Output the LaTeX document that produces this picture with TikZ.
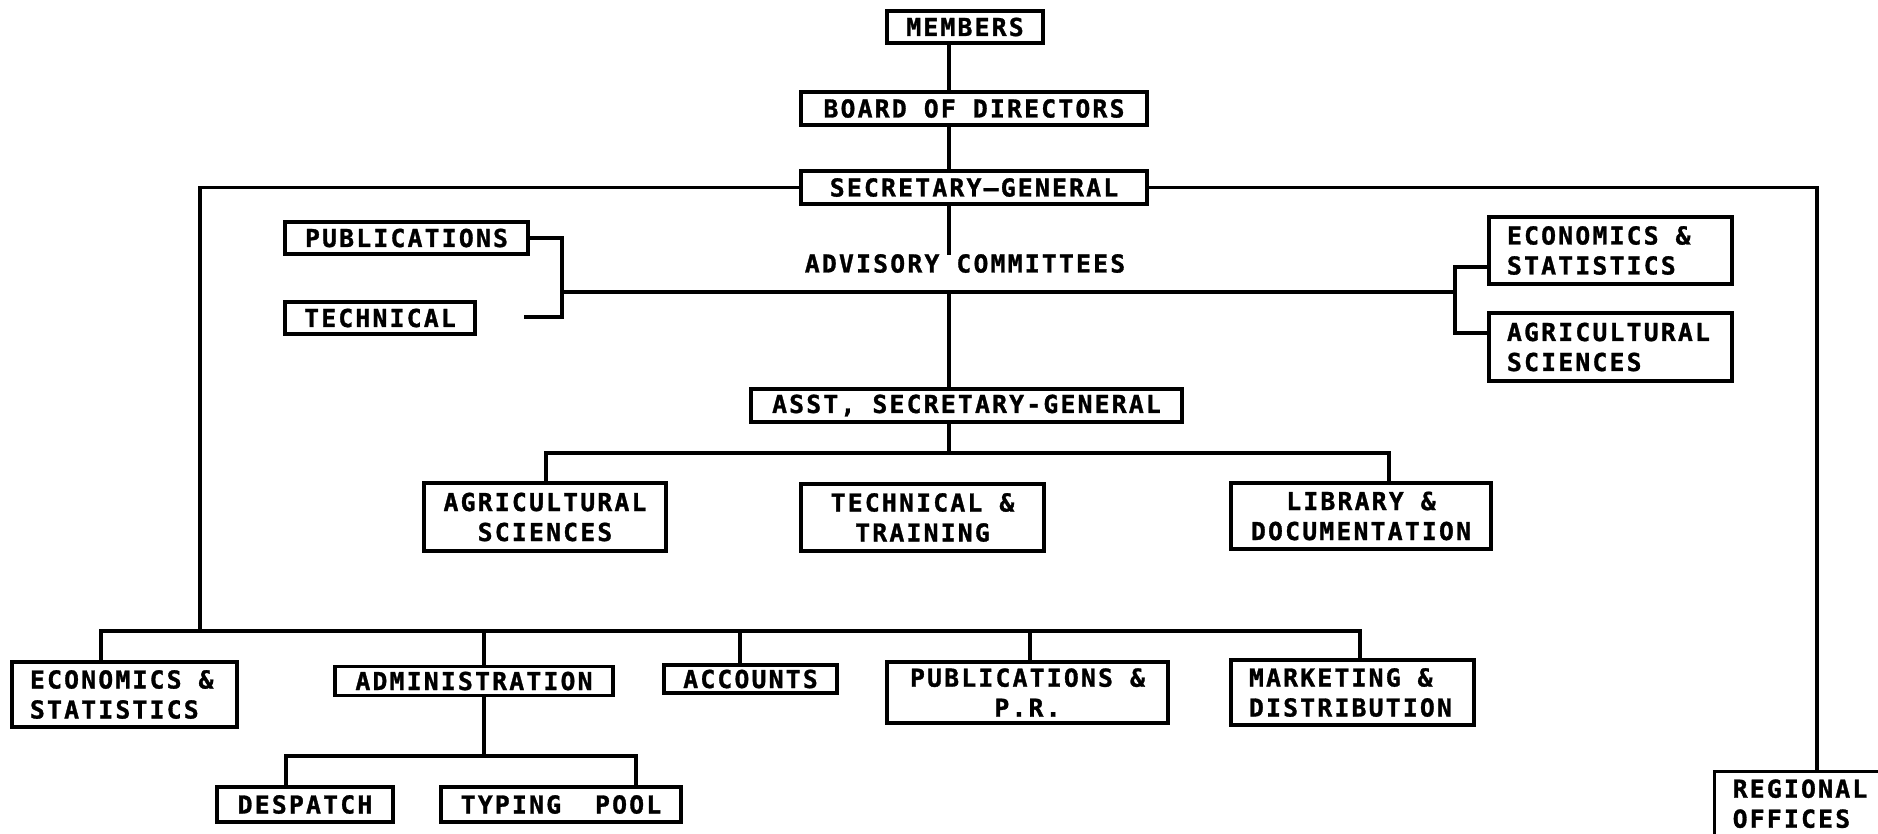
\documentclass[tikz,border=0pt]{standalone}
\usepackage{fontspec}
\newfontfamily\lpfam{DejaVu Sans Mono}[LetterSpace=9,FakeBold=1.2]
\newcommand\lpF{\lpfam\bfseries\fontsize{24.7}{30}\selectfont}
\newcommand\ls{\hspace{17pt}}
\begin{document}
\begin{tikzpicture}[x=1pt,y=-1pt,
  box/.style={draw, line width=3.4pt, inner sep=0pt, font=\lpF, align=center},
  lbox/.style={box, align=left, inner xsep=18pt},
  conn/.style={line width=3.4pt, line join=miter}]
\useasboundingbox (0,0) rectangle (1878,833);
\fill[white] (0,0) rectangle (1878,833);
\clip (0,0) rectangle (1878,833);

% top chain
\node[box, minimum width=156pt, minimum height=32pt] (members) at (965,27) {MEMBERS};
\node[box, minimum width=346pt, minimum height=33pt] (board) at (974,108.5) {BOARD OF DIRECTORS};
\node[box, minimum width=346pt, minimum height=33pt] (secgen) at (974,187.5) {SECRETARY—GENERAL};
\node[font=\lpF, inner sep=0pt] (adv) at (965,263.5) {ADVISORY COMMITTEES};

% advisory committees
\node[box, minimum width=243pt, minimum height=32pt] (pub) at (406.5,238) {PUBLICATIONS};
\node[box, minimum width=190pt, minimum height=32pt] (tech) at (380,318) {TECHNICAL};
\node[lbox, text width=207pt, minimum height=67pt] (econR) at (1610.5,250.5) {ECONOMICS\ls\&\\STATISTICS};
\node[lbox, text width=207pt, minimum height=68pt] (agriR) at (1610.5,347) {AGRICULTURAL\\SCIENCES};

% assistant secretary-general
\node[box, minimum width=431pt, minimum height=33pt] (asst) at (966.5,405.5) {ASST, SECRETARY-GENERAL};
\node[box, minimum width=242pt, minimum height=68pt] (agriM) at (545,517) {AGRICULTURAL\\SCIENCES};
\node[box, minimum width=243pt, minimum height=67pt] (techtr) at (922.5,517.5) {TECHNICAL \&\\TRAINING};
\node[box, minimum width=260pt, minimum height=66pt] (lib) at (1361,516) {LIBRARY \&\\DOCUMENTATION};

% bottom row
\node[lbox, text width=189pt, minimum height=65pt] (econBL) at (124.5,694.5) {ECONOMICS\ls\&\\STATISTICS};
\node[box, minimum width=278pt, minimum height=29pt] (admin) at (474,681) {ADMINISTRATION};
\node[box, minimum width=173pt, minimum height=28pt] (accounts) at (750.5,679) {ACCOUNTS};
\node[box, minimum width=281pt, minimum height=61pt] (pubpr) at (1027.5,692.5) {PUBLICATIONS \&\\P.R.};
\node[lbox, text width=207pt, minimum height=65pt] (mkt) at (1352.5,692.5) {MARKETING\ls\&\\DISTRIBUTION};
\node[box, minimum width=176pt, minimum height=35pt] (desp) at (305,804.5) {DESPATCH};
\node[box, minimum width=240pt, minimum height=35pt] (typing) at (561,804.5) {TYPING\ls\ls POOL};
\node[lbox, text width=151pt, minimum height=64pt, anchor=north west] (regional) at (1713,770) {REGIONAL\\OFFICES};

% connectors
\coordinate (sp) at (949,0);
\draw[conn] (members.south -| sp) -- (board.north -| sp);
\draw[conn] (board.south -| sp) -- (secgen.north -| sp);
\coordinate (advtop) at (949,255);
\draw[conn] (secgen.south -| sp) -- (advtop);

\coordinate (advL) at (562,292);
\coordinate (advR) at (1455,292);
\draw[conn] (advL) -- (advR);
\coordinate (techEnd) at (524,317);
\draw[conn] (pub.east) -- (pub.east -| advL) -- (techEnd -| advL) -- (techEnd);
\coordinate (econC) at (1455,267);
\coordinate (agriC) at (1455,333);
\draw[conn] (econC -| econR.west) -- (econC) -- (agriC) -- (agriC -| agriR.west);
\draw[conn] (sp |- advL) -- (asst.north -| sp);

\coordinate (lv) at (200,631);
\draw[conn] (secgen.west) -- (secgen.west -| lv) -- (lv);
\coordinate (rv) at (1817,0);
\draw[conn] (secgen.east) -- (secgen.east -| rv) -- (regional.north -| rv);

\coordinate (ab) at (949,453);
\coordinate (abL) at (546,453);
\coordinate (abR) at (1389,453);
\draw[conn] (asst.south -| sp) -- (ab);
\draw[conn] (agriM.north -| abL) -- (abL) -- (abR) -- (lib.north -| abR);

\coordinate (bL) at (101,631);
\coordinate (bR) at (1360,631);
\coordinate (bAdm) at (484,631);
\coordinate (bAcc) at (740,631);
\coordinate (bPub) at (1030,631);
\draw[conn] (econBL.north -| bL) -- (bL) -- (bR) -- (mkt.north -| bR);
\draw[conn] (bAdm) -- (admin.north -| bAdm);
\draw[conn] (bAcc) -- (accounts.north -| bAcc);
\draw[conn] (bPub) -- (pubpr.north -| bPub);

\coordinate (dAdm) at (484,756);
\coordinate (dL) at (286,756);
\coordinate (dR) at (636,756);
\draw[conn] (admin.south -| dAdm) -- (dAdm);
\draw[conn] (desp.north -| dL) -- (dL) -- (dR) -- (typing.north -| dR);
\end{tikzpicture}
\end{document}
